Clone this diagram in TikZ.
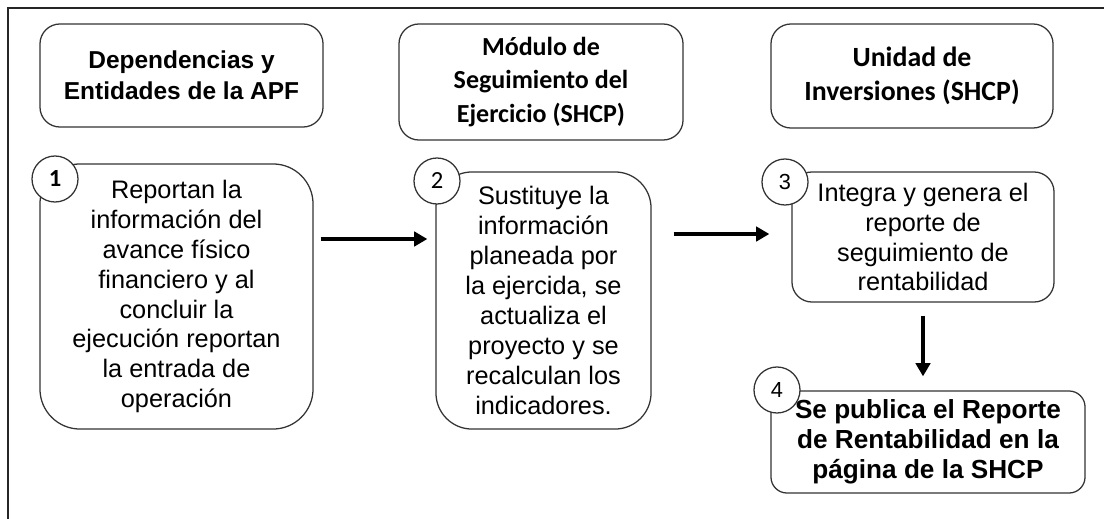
\documentclass[tikz,border=0pt]{standalone}
\usepackage{fontspec}
\setmainfont{Liberation Sans}
\newfontfamily\calibfont{Carlito}
\usetikzlibrary{arrows.meta}

\tikzset{
  titlebox/.style={draw=black!80,line width=0.9pt,rounded corners=0.5cm,align=center,inner sep=0pt},
  stepbox/.style={draw=black!80,line width=0.9pt,align=center,inner sep=0pt,
    font=\fontsize{18}{21.3}\selectfont},
  numcirc/.style={circle,draw=black!80,line width=0.9pt,fill=white,minimum size=1.15cm,inner sep=0pt},
  flow/.style={line width=2.6pt,-{Triangle[length=0.33cm,width=0.36cm]}}
}

\begin{document}
\begin{tikzpicture}[x=0.025cm,y=-0.025cm]
\useasboundingbox (0,0) rectangle (1104,519);
% outer frame
\draw[black!85,line width=0.8pt] (1104,8) -- (8,8) -- (8,519);

% titles
\node[titlebox,minimum width=7.075cm,minimum height=2.575cm,font=\fontsize{17.4}{22}\selectfont\bfseries] (h1) at (181.5,75.5) {Dependencias y\\Entidades de la APF};
\node[titlebox,minimum width=7.1cm,minimum height=2.9cm,font=\calibfont\fontsize{18.5}{24}\selectfont\bfseries] (h2) at (541,82) {Módulo de\\Seguimiento del\\Ejercicio (SHCP)};
\node[titlebox,minimum width=7.05cm,minimum height=2.6cm,font=\calibfont\fontsize{19.8}{24}\selectfont\bfseries] (h3) at (912,76) {Unidad de\\Inversiones (SHCP)};

% steps
\node[stepbox,rounded corners=1cm,minimum width=6.825cm,minimum height=6.625cm] (s1) at (176.5,296.5) {Reportan la\\información del\\avance físico\\financiero y al\\concluir la\\ejecución reportan\\la entrada de\\operación};
\node[stepbox,rounded corners=0.9cm,minimum width=5.375cm,minimum height=6.425cm] (s2) at (543.5,300.5) {Sustituye la\\información\\planeada por\\la ejercida, se\\actualiza el\\proyecto y se\\recalculan los\\indicadores.};
\node[stepbox,rounded corners=0.5cm,minimum width=6.55cm,minimum height=3.25cm] (s3) at (923,237) {Integra y genera el\\reporte de\\seguimiento de\\rentabilidad};
\node[stepbox,rounded corners=0.4cm,minimum width=7.85cm,minimum height=2.55cm,font=\fontsize{18.6}{21.3}\selectfont\bfseries] (s4) at (928,442) {Se publica el Reporte\\de Rentabilidad en la\\página de la SHCP};

% numbers
\node[numcirc,font=\calibfont\fontsize{17.5}{18}\selectfont\bfseries] (n1) at (55,179) {1};
\node[numcirc,font=\calibfont\fontsize{17.5}{18}\selectfont] (n2) at (437,181) {2};
\node[numcirc,font=\fontsize{15.5}{18}\selectfont] (n3) at (785,182) {3};
\node[numcirc,font=\fontsize{15.5}{18}\selectfont] (n4) at (777,390) {4};

% arrows
\coordinate (r1) at (0,239);
\coordinate (r2) at (0,234);
\draw[flow,shorten <=0.175cm,shorten >=0.2cm] (s1.east |- r1) -- (s2.west |- r1);
\draw[flow,shorten <=0.55cm,shorten >=0.55cm] (s2.east |- r2) -- (s3.west |- r2);
\draw[flow,shorten <=0.325cm,shorten >=0.35cm] (s3.south) -- (s3.south |- s4.north);
\end{tikzpicture}
\end{document}
